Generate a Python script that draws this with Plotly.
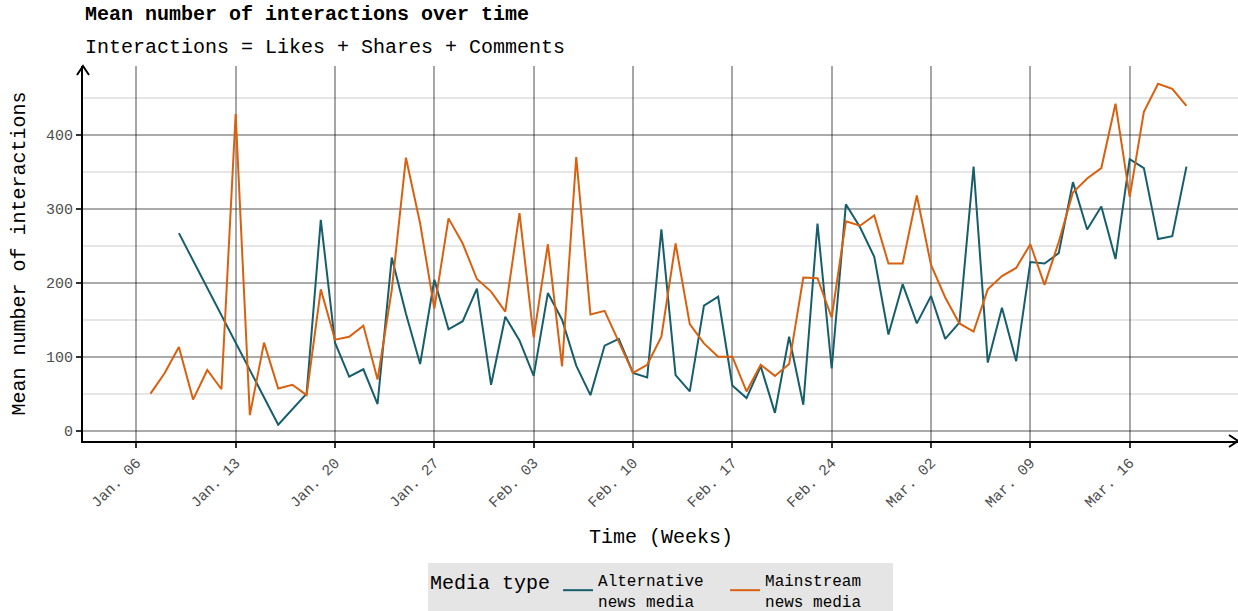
import pandas as pd
import plotly.graph_objects as go

# alternative news media (missing days are simply absent)
alt_dates = ['2020-01-09', '2020-01-16', '2020-01-18', '2020-01-19', '2020-01-20', '2020-01-21',
             '2020-01-22', '2020-01-23', '2020-01-24', '2020-01-25', '2020-01-26', '2020-01-27',
             '2020-01-28', '2020-01-29', '2020-01-30', '2020-01-31', '2020-02-01', '2020-02-02',
             '2020-02-03', '2020-02-04', '2020-02-05', '2020-02-06', '2020-02-07', '2020-02-08',
             '2020-02-09', '2020-02-10', '2020-02-11', '2020-02-12', '2020-02-13', '2020-02-14',
             '2020-02-15', '2020-02-16', '2020-02-17', '2020-02-18', '2020-02-19', '2020-02-20',
             '2020-02-21', '2020-02-22', '2020-02-23', '2020-02-24', '2020-02-25', '2020-02-26',
             '2020-02-27', '2020-02-28', '2020-02-29', '2020-03-01', '2020-03-02', '2020-03-03',
             '2020-03-04', '2020-03-05', '2020-03-06', '2020-03-07', '2020-03-08', '2020-03-09',
             '2020-03-10', '2020-03-11', '2020-03-12', '2020-03-13', '2020-03-14', '2020-03-15',
             '2020-03-16', '2020-03-17', '2020-03-18', '2020-03-19', '2020-03-20']
alt_values = [267, 8, 50, 285, 119, 73,
              83, 36, 234, 158, 90, 204,
              137, 148, 192, 62, 154, 122,
              74, 186, 150, 88, 48, 115,
              124, 78, 72, 272, 75, 53,
              169, 181, 61, 44, 87, 24,
              127, 35, 280, 84, 306, 275,
              235, 130, 198, 145, 182, 124,
              146, 357, 92, 166, 94, 228,
              226, 240, 336, 272, 303, 232,
              367, 355, 259, 263, 357]

# mainstream news media, one value per day from Jan 7 to Mar 20
main_start = '2020-01-07'
main_values = [50, 78, 113, 42, 82, 56, 428, 21, 119, 57, 62, 48, 191, 123, 127, 142, 69, 190,
               369, 280, 165, 287, 253, 205, 188,
               161, 294, 126, 252, 87, 370, 157, 162, 121, 78, 89, 127, 253, 144, 118, 100, 100,
               53, 89, 74, 90, 207, 206, 153, 283, 277, 291, 226, 226,
               318, 224, 180, 145, 134, 191, 209, 220, 252, 197, 255, 322, 341, 355, 442, 316,
               431, 469, 462, 439]
main_dates = pd.date_range(main_start, periods=len(main_values), freq='D')

# weekly ticks
week_ticks = ['2020-01-06', '2020-01-13', '2020-01-20', '2020-01-27', '2020-02-03', '2020-02-10',
              '2020-02-17', '2020-02-24', '2020-03-02', '2020-03-09', '2020-03-16']
week_labels = ['Jan. 06', 'Jan. 13', 'Jan. 20', 'Jan. 27', 'Feb. 03', 'Feb. 10',
               'Feb. 17', 'Feb. 24', 'Mar. 02', 'Mar. 09', 'Mar. 16']

MONO = 'Courier New, Liberation Mono, monospace'
TEAL = '#175e6c'
ORANGE = '#d9600f'

fig = go.Figure()
fig.add_trace(go.Scatter(x=pd.to_datetime(alt_dates), y=alt_values, mode='lines',
                         name='Alternative<br>news media',
                         line={'width': 2, 'color': TEAL}))
fig.add_trace(go.Scatter(x=main_dates, y=main_values, mode='lines',
                         name='Mainstream<br>news media',
                         line={'width': 2, 'color': ORANGE}))

fig.update_xaxes(range=['2020-01-02 05:50', '2020-03-23 15:10'], automargin=False,
                 tickvals=pd.to_datetime(week_ticks), ticktext=week_labels, tickangle=-45,
                 tickfont={'family': MONO, 'size': 15, 'color': '#4d4d4d'},
                 ticks='outside', ticklen=5, tickwidth=1.5, tickcolor='#333333',
                 showgrid=True, gridcolor='rgba(0,0,0,0.35)', gridwidth=1.8,
                 showline=True, linecolor='black', linewidth=2, zeroline=False)
fig.update_yaxes(range=[-14, 493], tick0=0, dtick=100, automargin=False,
                 tickfont={'family': MONO, 'size': 15, 'color': '#4d4d4d'},
                 ticks='outside', ticklen=5, tickwidth=1.5, tickcolor='#333333',
                 showgrid=True, gridcolor='rgba(0,0,0,0.33)', gridwidth=1.8,
                 minor={'tick0': 50, 'dtick': 100, 'showgrid': True,
                        'gridcolor': '#e6e6e6', 'gridwidth': 2},
                 showline=True, linecolor='black', linewidth=2, zeroline=False)

arrow = {'type': 'path', 'xref': 'paper', 'yref': 'paper',
         'xsizemode': 'pixel', 'ysizemode': 'pixel',
         'line': {'color': 'black', 'width': 2}}
fig.update_layout(shapes=[
    dict(arrow, xanchor=1, yanchor=0, path='M -9,6 L 0,0 L -9,-6'),
    dict(arrow, xanchor=0, yanchor=1, path='M -6,-9 L 0,0 L 6,-9'),
])

fig.update_layout(annotations=[
    dict(text='<b>Mean number of interactions over time</b>', xref='paper', yref='paper',
         x=0, y=1, xanchor='left', yanchor='middle', yshift=52, showarrow=False,
         font={'family': MONO, 'size': 20, 'color': 'black'}),
    dict(text='Interactions = Likes + Shares + Comments', xref='paper', yref='paper',
         x=0, y=1, xanchor='left', yanchor='middle', yshift=19, showarrow=False,
         font={'family': MONO, 'size': 20, 'color': 'black'}),
    dict(text='Mean number of interactions', xref='paper', yref='paper',
         x=0, y=0.5, xanchor='center', yanchor='middle', xshift=-64, textangle=-90,
         showarrow=False, font={'family': MONO, 'size': 20, 'color': 'black'}),
    dict(text='Time (Weeks)', xref='paper', yref='paper',
         x=0.5, y=0, xanchor='center', yanchor='middle', yshift=-96,
         showarrow=False, font={'family': MONO, 'size': 20, 'color': 'black'}),
])

fig.update_layout(
    width=1238, height=611,
    margin={'l': 83, 'r': 0, 't': 66, 'b': 170, 'autoexpand': False},
    plot_bgcolor='white', paper_bgcolor='white',
    showlegend=True,
    legend={'orientation': 'h', 'x': 0.5, 'xanchor': 'center', 'y': -0.325, 'yanchor': 'top',
            'bgcolor': '#e5e5e5', 'font': {'family': MONO, 'size': 16, 'color': 'black'},
            'title': {'text': 'Media type', 'font': {'family': MONO, 'size': 20}},
            'itemwidth': 30, 'entrywidth': 122},
)

# the page body has a default 8px margin; drop it so the figure fills the window
fig.write_html('out.html', config={'displayModeBar': False},
               post_script="document.body.style.margin='0';")
